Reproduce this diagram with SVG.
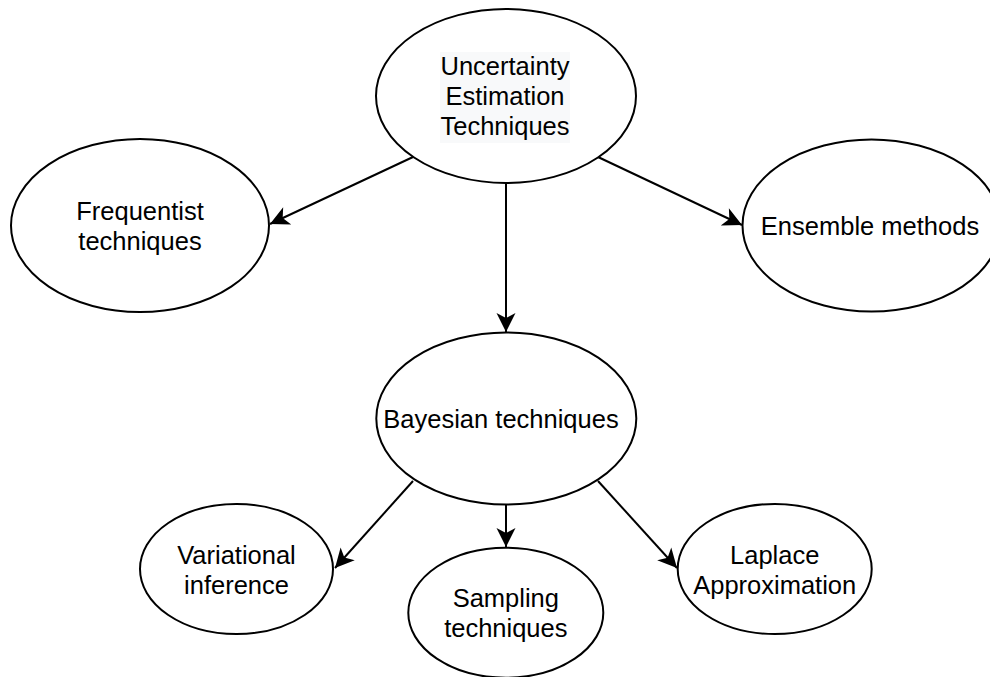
<svg xmlns="http://www.w3.org/2000/svg" width="990" height="677" viewBox="0 0 990 677">
  <style>
    .node ellipse { fill: #ffffff; stroke: #000000; stroke-width: 2; }
    .node text { font-family: "Liberation Sans", Arial, sans-serif; font-size: 25.5px; fill: #000000; text-anchor: middle; }
    .edge { fill: none; stroke: #000000; stroke-width: 2; marker-end: url(#arrow); }
  </style>
  <defs>
    <marker id="arrow" markerUnits="userSpaceOnUse" viewBox="-22 -11 24 22" refX="0" refY="0" markerWidth="24" markerHeight="22" orient="auto">
      <path d="M0,0 L-19,-9.5 L-14,0 L-19,9.5 Z" fill="#000000"/>
    </marker>
  </defs>

  <rect width="990" height="677" fill="#ffffff"/>

  <g id="connectors">
    <line class="edge" x1="413" y1="157" x2="270" y2="224"/>
    <line class="edge" x1="598" y1="157" x2="742" y2="225"/>
    <line class="edge" x1="506" y1="183" x2="506" y2="332"/>
    <line class="edge" x1="413" y1="481" x2="335" y2="568"/>
    <line class="edge" x1="506" y1="505" x2="506" y2="547"/>
    <line class="edge" x1="598" y1="481" x2="677" y2="568"/>
  </g>

  <g id="uncertainty" class="node">
    <ellipse cx="506" cy="96" rx="130" ry="87"/>
    <rect x="440" y="52" width="130" height="91" fill="#f8f9fa"/>
    <text x="505" y="75">Uncertainty</text>
    <text x="505" y="105">Estimation</text>
    <text x="505" y="135">Techniques</text>
  </g>

  <g id="frequentist" class="node">
    <ellipse cx="140" cy="225.5" rx="129" ry="86.5"/>
    <text x="140" y="220">Frequentist</text>
    <text x="140" y="250">techniques</text>
  </g>

  <g id="ensemble" class="node">
    <ellipse cx="871.5" cy="225.5" rx="129" ry="86"/>
    <text x="870" y="235">Ensemble methods</text>
  </g>

  <g id="bayesian" class="node">
    <ellipse cx="506.3" cy="418.5" rx="130" ry="86"/>
    <text x="501" y="428">Bayesian techniques</text>
  </g>

  <g id="variational" class="node">
    <ellipse cx="236.5" cy="569" rx="96.5" ry="65"/>
    <text x="236.5" y="564">Variational</text>
    <text x="236.5" y="594">inference</text>
  </g>

  <g id="sampling" class="node">
    <ellipse cx="505.8" cy="612.7" rx="97.5" ry="65"/>
    <text x="505.8" y="607">Sampling</text>
    <text x="505.8" y="637">techniques</text>
  </g>

  <g id="laplace" class="node">
    <ellipse cx="774.7" cy="569" rx="97" ry="65"/>
    <text x="774.7" y="564">Laplace</text>
    <text x="774.7" y="594">Approximation</text>
  </g>
</svg>
